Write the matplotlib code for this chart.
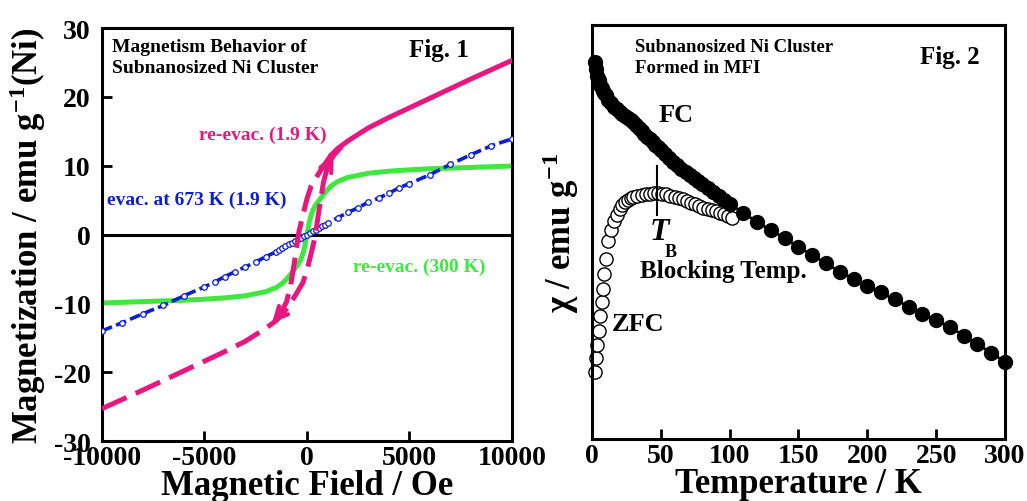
import matplotlib.pyplot as plt

plt.rcParams['font.family'] = 'Liberation Serif'
plt.rcParams['font.weight'] = 'bold'
plt.rcParams['mathtext.fontset'] = 'custom'
plt.rcParams['mathtext.rm'] = 'Liberation Serif:bold'
plt.rcParams['mathtext.it'] = 'Liberation Serif:italic:bold'
plt.rcParams['mathtext.bf'] = 'Liberation Serif:bold'
plt.rcParams['axes.unicode_minus'] = False

pink = '#e8177f'
green = '#3ee83e'
blue = '#0a1ed2'

# --- Fig. 1: magnetization curves ---
# re-evac. 300 K (no hysteresis)
green_h = [-10000, -9000, -8000, -7000, -6000, -5000, -4000, -3000, -2500, -2000,
           -1500, -1200, -1000, -800, -600, -400, -300, -200, -100, 0,
           100, 200, 300, 400, 600, 800, 1000, 1200, 1500, 2000,
           2500, 3000, 4000, 5000, 6000, 7000, 8000, 9000, 10000]
green_m = [-9.95, -9.85, -9.75, -9.65, -9.55, -9.4, -9.2, -8.9, -8.6, -8.3,
           -7.7, -7.1, -6.5, -5.8, -5.0, -4.2, -3.6, -2.8, -1.6, 0.0,
           1.6, 2.8, 3.6, 4.2, 5.0, 5.8, 6.5, 7.1, 7.7, 8.3,
           8.6, 8.9, 9.2, 9.4, 9.55, 9.65, 9.75, 9.85, 9.95]

# evac. at 673 K (1.9 K)
blue_h = [-10000, -9000, -8000, -7000, -6000, -5000, -4500, -4000, -3500, -3000,
          -2500, -2000, -1500, -1350, -1200, -1050, -900, -750, -600, -450,
          -300, -150, 0, 150, 300, 450, 600, 750, 900, 1050,
          1500, 2000, 2500, 3000, 3500, 4000, 4500, 5000, 6000, 7000,
          8000, 9000, 10000]
blue_m = [-14.0, -12.8, -11.5, -10.3, -8.9, -7.6, -6.9, -6.1, -5.4, -4.7,
          -4.0, -3.2, -2.5, -2.2, -1.95, -1.7, -1.45, -1.2, -0.95, -0.7,
          -0.45, -0.2, 0.0, 0.2, 0.45, 0.7, 0.95, 1.2, 1.45, 1.7,
          2.45, 3.2, 3.9, 4.7, 5.3, 6.0, 6.8, 7.4, 8.7, 10.2,
          11.6, 12.9, 13.9]

# re-evac. 1.9 K hysteresis loop
desc_h = [10000, 8000, 6000, 4000, 3000, 2000, 1500, 1200, 1000, 800,
          600, 400, 200, 0, -200, -400, -600, -800, -1000, -1300, -1700]
desc_m = [25.3, 22.6, 19.8, 17.0, 15.5, 13.6, 12.5, 11.6, 10.8, 9.9,
          9.0, 8.0, 7.0, 5.2, 2.8, 0.3, -3.8, -7.5, -9.8, -11.5, -12.8]
asc_h = [-10000, -8000, -6000, -4000, -3000, -2000, -1500, -1200, -1000, -800,
         -600, -400, -200, 0, 200, 400, 600, 800, 1000, 1300, 1700]
asc_m = [-25.3, -22.6, -19.8, -17.0, -15.5, -13.6, -12.5, -11.6, -10.8, -9.9,
         -9.0, -8.0, -7.0, -5.2, -2.8, -0.3, 3.8, 7.5, 9.8, 11.5, 12.8]

# --- Fig. 2: FC / ZFC susceptibility (arb. units) ---
fc_t = [2, 3, 4, 5, 6, 7, 8, 9, 10, 12, 14, 16, 18, 20, 22, 24, 26, 28, 30,
        32, 34, 36, 38, 40, 42, 44, 46, 48, 50, 53, 56, 59, 62, 65, 68, 71,
        74, 77, 80, 84, 88, 92, 96, 100, 110, 120, 130, 140, 150, 160, 170,
        180, 190, 200, 210, 220, 230, 240, 250, 260, 270, 280, 290, 300]
fc_chi = [0.910, 0.893, 0.878, 0.866, 0.856, 0.848, 0.841, 0.835, 0.830, 0.820,
          0.811, 0.803, 0.796, 0.790, 0.785, 0.780, 0.775, 0.770, 0.765,
          0.758, 0.751, 0.744, 0.737, 0.730, 0.724, 0.718, 0.711, 0.705,
          0.699, 0.689, 0.679, 0.669, 0.661, 0.653, 0.645, 0.638, 0.631,
          0.623, 0.616, 0.606, 0.596, 0.587, 0.577, 0.568, 0.546, 0.524,
          0.504, 0.485, 0.464, 0.444, 0.424, 0.404, 0.387, 0.370, 0.354,
          0.337, 0.320, 0.302, 0.287, 0.270, 0.250, 0.229, 0.208, 0.186]
zfc_t = [2, 3, 4, 5, 6, 7, 8, 9, 10, 12, 14, 16, 18, 20, 22, 24, 26, 28, 30,
         33, 36, 39, 42, 45, 48, 51, 54, 57, 60, 63, 66, 69, 72, 75, 78, 81,
         84, 87, 90, 93, 96, 99, 102]
zfc_chi = [0.162, 0.195, 0.228, 0.262, 0.296, 0.330, 0.362, 0.398, 0.435,
           0.478, 0.505, 0.526, 0.542, 0.555, 0.565, 0.572, 0.578, 0.582,
           0.585, 0.588, 0.590, 0.592, 0.593, 0.594, 0.594, 0.593, 0.591,
           0.588, 0.585, 0.582, 0.579, 0.575, 0.571, 0.567, 0.563, 0.559,
           0.556, 0.553, 0.550, 0.547, 0.543, 0.539, 0.535]
tb_temp = 47
tb_span = [0.54, 0.66]

fig = plt.figure(figsize=(10.27, 5.02), dpi=100)
ax1 = fig.add_axes([0.0993, 0.1195, 0.3992, 0.8227])
ax2 = fig.add_axes([0.5764, 0.1235, 0.4022, 0.8247])

for ax in (ax1, ax2):
    for s in ax.spines.values():
        s.set_linewidth(2.2)
    ax.tick_params(direction='in', length=7, width=2, top=False, right=False,
                   labelsize=20, pad=3)

# left panel
ax1.axhline(0, color='k', lw=2.2, zorder=1)
ax1.plot(green_h, green_m, color=green, lw=3.6, zorder=2)
ax1.plot(blue_h, blue_m, color=blue, lw=2.6, ls=(0, (3, 1.2)), marker='o',
         ms=4, mfc='white', mec=blue, mew=0.9, zorder=3)
ax1.plot(desc_h[:8], desc_m[:8], color=pink, lw=3.6, zorder=4)
ax1.plot(desc_h[7:], desc_m[7:], color=pink, lw=3.6, dashes=(5.4, 2), zorder=4)
ax1.plot(asc_h, asc_m, color=pink, lw=3.6, dashes=(5.4, 2), zorder=4)
# sweep direction arrows on the loop
ax1.annotate('', xy=(asc_h[19], asc_m[19]), xytext=(asc_h[18], asc_m[18]),
             arrowprops=dict(arrowstyle='->', color=pink, lw=3,
                             mutation_scale=22, shrinkA=0, shrinkB=0), zorder=5)
ax1.annotate('', xy=(desc_h[20], desc_m[20]), xytext=(desc_h[19], desc_m[19]),
             arrowprops=dict(arrowstyle='->', color=pink, lw=3,
                             mutation_scale=22, shrinkA=0, shrinkB=0), zorder=5)

ax1.set_xlim(-10000, 10000)
ax1.set_ylim(-30, 30)
ax1.set_xticks([-10000, -5000, 0, 5000, 10000])
ax1.set_yticks([-30, -20, -10, 0, 10, 20, 30])
ax1.tick_params(axis='y', pad=8)
ax1.set_xlabel('Magnetic Field / Oe', fontsize=25, fontweight='bold', labelpad=-1)
ax1.set_ylabel('Magnetization / emu g$^{-1}$(Ni)', fontsize=25,
               fontweight='bold', labelpad=4)

ax1.text(0.024, 0.975, 'Magnetism Behavior of\nSubnanosized Ni Cluster',
         transform=ax1.transAxes, fontsize=14, va='top', linespacing=1.3)
ax1.text(0.749, 0.949, 'Fig. 1', transform=ax1.transAxes, fontsize=18, va='center')
ax1.text(0.237, 0.743, 're-evac. (1.9 K)', transform=ax1.transAxes,
         fontsize=14, color=pink, va='center')
ax1.text(0.012, 0.586, 'evac. at 673 K (1.9 K)', transform=ax1.transAxes,
         fontsize=14, color=blue, va='center')
ax1.text(0.612, 0.424, 're-evac. (300 K)', transform=ax1.transAxes,
         fontsize=14, color=green, va='center')

# right panel
ax2.plot(fc_t, fc_chi, color='k', lw=2, marker='o', ms=10, mfc='k', mec='k',
         clip_on=False, zorder=3)
ax2.plot(zfc_t, zfc_chi, ls='none', marker='o', ms=9.5, mfc='white', mec='k',
         mew=1, clip_on=False, zorder=2)
ax2.plot([tb_temp, tb_temp], tb_span, color='k', lw=1.5)

ax2.set_xlim(0, 300)
ax2.set_ylim(0, 1)
ax2.set_xticks([0, 50, 100, 150, 200, 250, 300])
ax2.set_yticks([])
ax2.set_xlabel('Temperature / K', fontsize=25, fontweight='bold', labelpad=-1)
ax2.set_ylabel('χ / emu g$^{-1}$', fontsize=25, fontweight='bold', labelpad=8)

ax2.text(0.104, 0.968, 'Subnanosized Ni Cluster\nFormed in MFI',
         transform=ax2.transAxes, fontsize=13.5, va='top', linespacing=1.3)
ax2.text(0.794, 0.925, 'Fig. 2', transform=ax2.transAxes, fontsize=18, va='center')
ax2.text(0.160, 0.785, 'FC', transform=ax2.transAxes, fontsize=19, va='center')
ax2.text(0.140, 0.502, 'T', transform=ax2.transAxes, fontsize=23,
         style='italic', va='center')
ax2.text(0.177, 0.454, 'B', transform=ax2.transAxes, fontsize=13, va='center')
ax2.text(0.116, 0.408, 'Blocking Temp.', transform=ax2.transAxes,
         fontsize=18, va='center')
ax2.text(0.048, 0.278, 'ZFC', transform=ax2.transAxes, fontsize=19, va='center')

fig.savefig('out.png', dpi=100)
